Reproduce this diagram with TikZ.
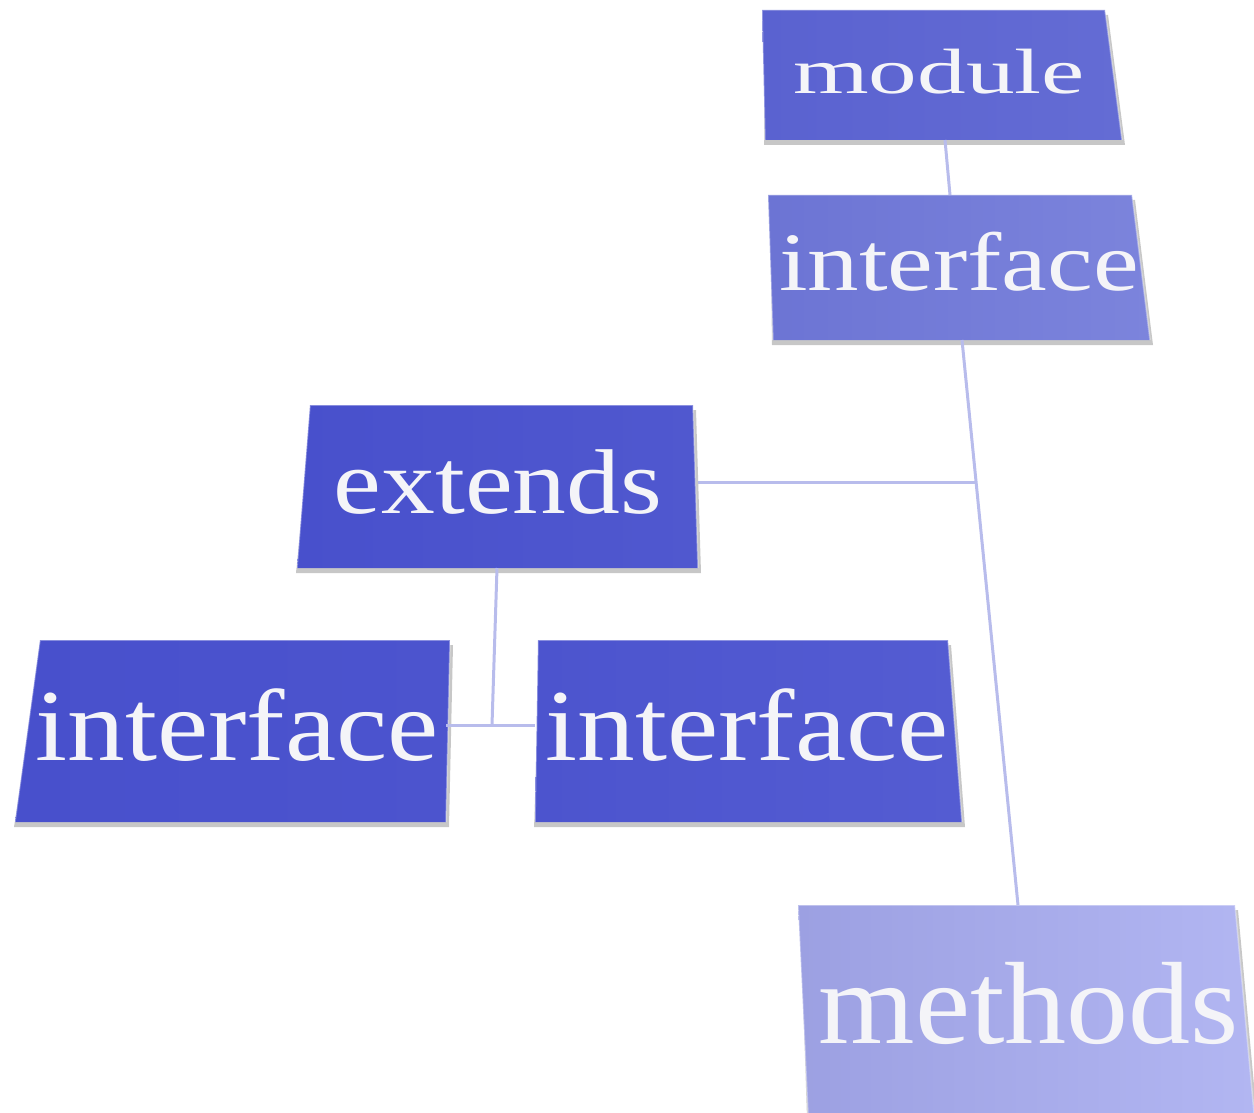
\documentclass[tikz,border=0pt]{standalone}
\usepackage{fontspec}
\setmainfont{Liberation Serif}
\definecolor{linkc}{HTML}{B8BCEC}
\definecolor{txtc}{HTML}{F4F4F8}
\definecolor{modc}{HTML}{5A62D0}
\definecolor{modr}{HTML}{646CD4}
\definecolor{ifta}{HTML}{6C74D4}
\definecolor{iftb}{HTML}{7C84DC}
\definecolor{extc}{HTML}{4850CC}
\definecolor{extr}{HTML}{5058CF}
\definecolor{ifla}{HTML}{4850CC}
\definecolor{iflb}{HTML}{4C54CE}
\definecolor{ifma}{HTML}{4C54CE}
\definecolor{ifmb}{HTML}{545CD2}
\definecolor{metha}{HTML}{9CA0E2}
\definecolor{methb}{HTML}{B2B6F2}
\tikzset{
  lbl/.style={inner sep=0pt, anchor=base, text=txtc},
  link/.style={draw=linkc, line width=3pt},
  shadowc/.style={fill=black, opacity=0.22},
  bevel/.style={draw=white, opacity=0.35, line width=1.5pt},
}
% four-corner box: fill colour pair, corners TL TR BR BL
\newcommand{\plate}[6]{%
  \fill[shadowc] ($#3+(2,5)$) -- ($#4+(3,5)$) -- ($#5+(3,5)$) -- ($#6+(-1,5)$) -- cycle;
  \shade[left color=#1, right color=#2] #3 -- #4 -- #5 -- #6 -- cycle;
  \draw[bevel] #6 -- #3 -- #4 -- #5;
}
\newcommand{\wordbox}[3]{\scalebox{#2}[1]{\fontsize{#1pt}{#1pt}\selectfont #3}}
\usetikzlibrary{calc}
\begin{document}
\begin{tikzpicture}[x=1pt,y=-1pt]
\useasboundingbox (0,0) rectangle (1254,1113);

% boxes
\plate{modc}{modr}{(762,10)}{(1105,10)}{(1122,140)}{(765,140)}
\plate{ifta}{iftb}{(768,195)}{(1132,195)}{(1150,340)}{(773,340)}
\plate{extc}{extr}{(310,405)}{(693,405)}{(698,568)}{(297,568)}
\plate{ifla}{iflb}{(40,640)}{(450,640)}{(446,822)}{(15,822)}
\plate{ifma}{ifmb}{(538,640)}{(948,640)}{(962,822)}{(535,822)}
\plate{metha}{methb}{(798,905)}{(1235,905)}{(1254,1113)}{(808,1113)}

% connection points on the box edges
\coordinate (mod-s) at (945,140);
\coordinate (ift-n) at (950,195);
\coordinate (ift-s) at (962,340);
\coordinate (meth-n) at (1018,905);
\coordinate (ext-e) at (698,482);
\coordinate (ext-s) at (497,568);
\coordinate (ifl-e) at (446,725);
\coordinate (ifm-w) at (535,725);
\coordinate (jn-a) at ($(ift-s)!0.25!(meth-n)$);
\coordinate (jn-b) at (492,725);

% connectors
\draw[link] (mod-s) -- (ift-n);
\draw[link] (ift-s) -- (meth-n);
\draw[link] (ext-e) -- (ext-e -| jn-a);
\draw[link] (ext-s) -- (jn-b);
\draw[link] (ifl-e) -- (ifm-w);

% labels
\node[lbl] (module) at (939,94) {\wordbox{64}{1.52}{module}};
\node[lbl] (iftop) at (959,290) {\wordbox{83}{1.24}{interface}};
\node[lbl] (extends) at (498,513) {\wordbox{92}{1.17}{extends}};
\node[lbl] (ifleft) at (237,760) {\wordbox{102}{1.13}{interface}};
\node[lbl] (ifmid) at (747,760) {\wordbox{102}{1.13}{interface}};
\node[lbl] (methods) at (1029,1043) {\wordbox{117}{1.06}{methods}};
\end{tikzpicture}
\end{document}
